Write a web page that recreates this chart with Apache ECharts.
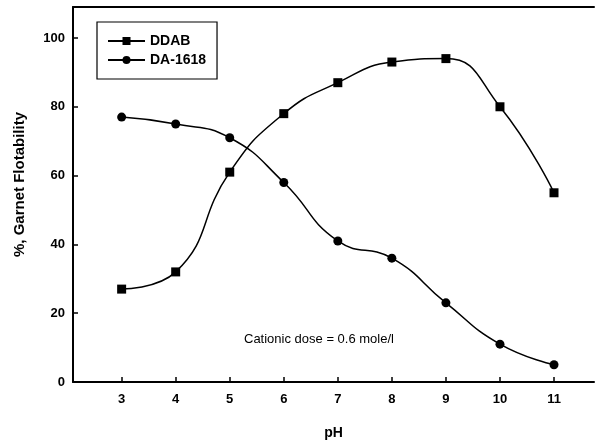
<!DOCTYPE html>
<html>
<head>
<meta charset="utf-8">
<script src="https://cdn.jsdelivr.net/npm/echarts@6/dist/echarts.min.js"></script>
<style>
html,body{margin:0;padding:0;background:#fff;}
#chart{width:595px;height:446px;}
</style>
</head>
<body>
<div id="chart"></div>
<script>
var phValues = [3, 4, 5, 6, 7, 8, 9, 10, 11];
var ddab = [27, 32, 61, 78, 87, 93, 94, 80, 55];
var da1618 = [77, 75, 71, 58, 41, 36, 23, 11, 5];
var xTicks = [3, 4, 5, 6, 7, 8, 9, 10, 11];
var yTicks = [0, 20, 40, 60, 80, 100];

function pairs(xs, ys) { return xs.map(function (x, i) { return [x, ys[i]]; }); }

var FONT = '"Liberation Sans", Arial, sans-serif';
var chart = echarts.init(document.getElementById('chart'), null, {renderer: 'canvas'});
chart.setOption({
  animation: false,
  backgroundColor: '#fff',
  grid: {left: 73, top: 7, right: 1, bottom: 64},
  legend: {
    left: 97, top: 22,
    orient: 'vertical',
    padding: [12, 11, 12, 10],
    borderColor: '#000', borderWidth: 1.2,
    itemWidth: 37, itemHeight: 10, itemGap: 5,
    textStyle: {fontFamily: FONT, fontWeight: 'bold', fontSize: 14, lineHeight: 14, color: '#000'},
    data: ['DDAB', 'DA-1618']
  },
  xAxis: [{
    type: 'value', min: 2.1, max: 11.74, position: 'bottom',
    name: 'pH', nameLocation: 'middle', nameGap: 44,
    nameTextStyle: {fontFamily: FONT, fontWeight: 'bold', fontSize: 14, color: '#000'},
    axisLine: {lineStyle: {color: '#000', width: 2}},
    axisTick: {inside: true, length: 5, customValues: xTicks, lineStyle: {color: '#000', width: 1.5}},
    axisLabel: {customValues: xTicks, margin: 11, fontFamily: FONT, fontWeight: 'bold', fontSize: 13, color: '#000'},
    splitLine: {show: false}
  }, {
    type: 'value', min: 2.1, max: 11.74, position: 'top',
    axisLine: {show: true, lineStyle: {color: '#000', width: 2}},
    axisTick: {show: false}, axisLabel: {show: false}, splitLine: {show: false}
  }],
  yAxis: {
    type: 'value', min: 0, max: 109, interval: 20,
    name: '%, Garnet Flotability', nameLocation: 'middle', nameGap: 46,
    nameTextStyle: {fontFamily: FONT, fontWeight: 'bold', fontSize: 15, color: '#000', padding: [0, 0, 0, 20]},
    axisLine: {show: true, lineStyle: {color: '#000', width: 2}},
    axisTick: {inside: true, length: 5, lineStyle: {color: '#000', width: 1.5}},
    axisLabel: {showMaxLabel: false, margin: 8, fontFamily: FONT, fontWeight: 'bold', fontSize: 13, color: '#000'},
    splitLine: {show: false}
  },
  series: [{
    name: 'DDAB', type: 'line', smooth: 0.5,
    data: pairs(phValues, ddab),
    symbol: 'rect', symbolSize: 9,
    itemStyle: {color: '#000'},
    lineStyle: {color: '#000', width: 1.5}
  }, {
    name: 'DA-1618', type: 'line', smooth: 0.5,
    data: pairs(phValues, da1618),
    symbol: 'circle', symbolSize: 9,
    itemStyle: {color: '#000'},
    lineStyle: {color: '#000', width: 1.5}
  }],
  graphic: [{
    type: 'text', left: 244, top: 333,
    style: {text: 'Cationic dose = 0.6 mole/l', fontFamily: FONT, fontSize: 13, fill: '#000'}
  }]
});
</script>
</body>
</html>
